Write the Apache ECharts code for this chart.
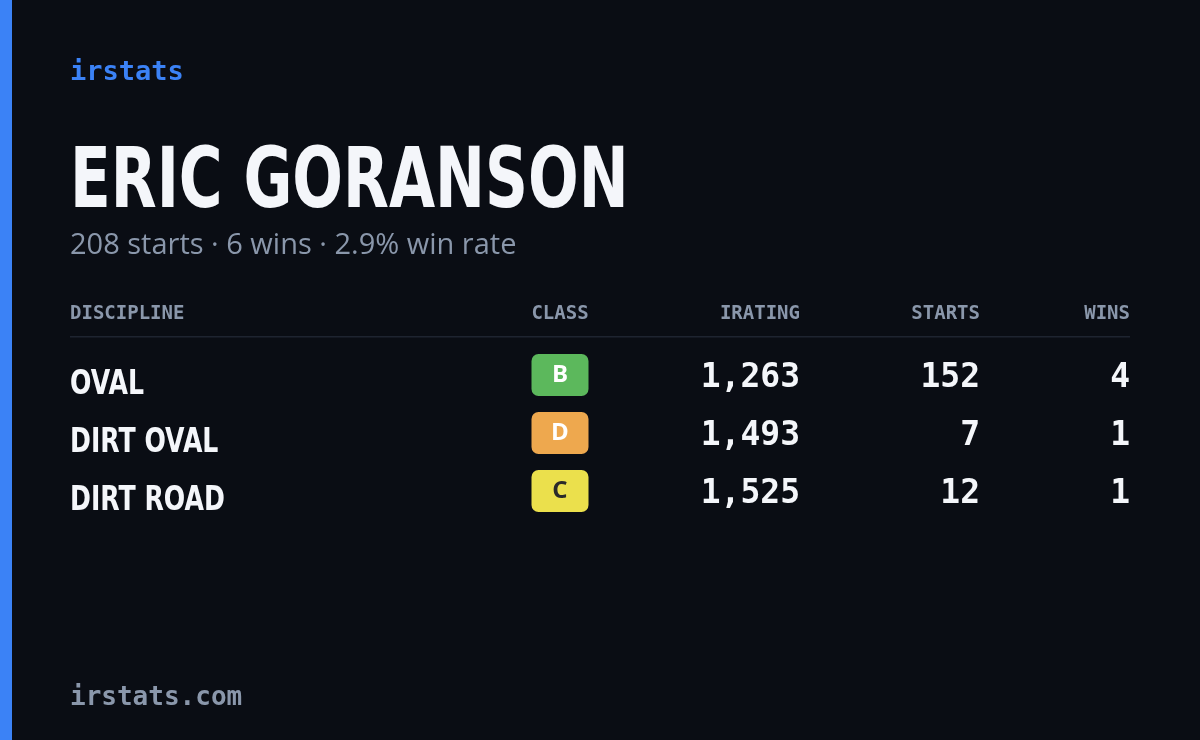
<!DOCTYPE html>
<html>
<head>
<meta charset="utf-8">
<script src="https://cdn.jsdelivr.net/npm/echarts@6/dist/echarts.min.js"></script>
<style>
  html, body { margin: 0; padding: 0; background: #0a0d14; }
  #chart { width: 1200px; height: 740px; }
</style>
</head>
<body>
<div id="chart"></div>
<script>
var driver = 'ERIC GORANSON';
var summary = '208 starts \u00b7 6 wins \u00b7 2.9% win rate';
var columns = ['DISCIPLINE', 'CLASS', 'IRATING', 'STARTS', 'WINS'];
var disciplines = ['OVAL', 'DIRT OVAL', 'DIRT ROAD'];
var classes = ['B', 'D', 'C'];
var iratings = [1263, 1493, 1525];
var starts = [152, 7, 12];
var wins = [4, 1, 1];

var classColors = { B: '#5cb85c', D: '#eea84e', C: '#ebe04c' };
var classText = { B: '#ffffff', D: '#ffffff', C: '#2a2a2a' };
var mono = '"DejaVu Sans Mono", monospace';
var narrow = '"DejaVu Sans", sans-serif';
// x anchor of each column (left for discipline, center for class, right for the rest)
var colX = [70, 560, 800, 980, 1130];
var colAlign = ['left', 'center', 'right', 'right', 'right'];

var chart = echarts.init(document.getElementById('chart'));

var header = columns.map(function (c, i) {
    return {
        type: 'text', x: colX[i], y: 314,
        style: { text: c, fill: '#8a97ab', font: 'bold 19px ' + mono, align: colAlign[i], verticalAlign: 'middle' }
    };
});

var option = {
    backgroundColor: '#0a0d14',
    grid: { left: 0, right: 0, top: 350, height: 174 },
    xAxis: { type: 'value', min: 0, max: 1200, show: false },
    yAxis: { type: 'category', data: disciplines, inverse: true, show: false },
    graphic: [
        { type: 'rect', shape: { x: 0, y: 0, width: 12, height: 740 }, style: { fill: '#3b82f6' } },
        { type: 'text', x: 70, y: 73, style: { text: 'irstats', fill: '#3b82f6', font: 'bold 27px ' + mono, verticalAlign: 'middle' } },
        { type: 'text', x: 70, y: 185, scaleX: 0.71, style: { text: driver, fill: '#f4f6fa', font: 'bold 84px ' + narrow, verticalAlign: 'middle' } },
        { type: 'text', x: 70, y: 246, style: { text: summary, fill: '#8a97ab', font: '29px "Open Sans", sans-serif', verticalAlign: 'middle' } },
        { type: 'rect', shape: { x: 70, y: 336, width: 1060, height: 1.5 }, style: { fill: '#1e2430' } },
        { type: 'text', x: 70, y: 698, style: { text: 'irstats.com', fill: '#8a97ab', font: 'bold 26px ' + mono, verticalAlign: 'middle' } }
    ].concat(header),
    series: [{
        type: 'custom',
        data: disciplines.map(function (d, i) { return [i]; }),
        encode: { y: 0 },
        renderItem: function (params, api) {
            var i = api.value(0);
            var y = api.coord([0, i])[1];
            var cls = classes[i];
            var cells = [
                disciplines[i], cls, iratings[i].toLocaleString('en-US'), String(starts[i]), String(wins[i])
            ];
            var children = [];
            children.push({
                type: 'text', x: colX[0], y: y + 6, scaleX: 0.74,
                style: { text: cells[0], fill: '#f4f6fa', font: 'bold 34px ' + narrow, verticalAlign: 'middle' }
            });
            children.push({
                type: 'rect', shape: { x: colX[1] - 28.5, y: y - 25, width: 57, height: 42, r: 7 },
                style: { fill: classColors[cls] }
            });
            children.push({
                type: 'text', x: colX[1], y: y - 4,
                style: { text: cls, fill: classText[cls], font: 'bold 24px "Open Sans", sans-serif', align: 'center', verticalAlign: 'middle' }
            });
            for (var c = 2; c < 5; c++) {
                children.push({
                    type: 'text', x: colX[c], y: y - 1,
                    style: { text: cells[c], fill: '#f4f6fa', font: 'bold 33px ' + mono, align: 'right', verticalAlign: 'middle' }
                });
            }
            return { type: 'group', children: children };
        }
    }]
};

chart.setOption(option);
</script>
</body>
</html>
